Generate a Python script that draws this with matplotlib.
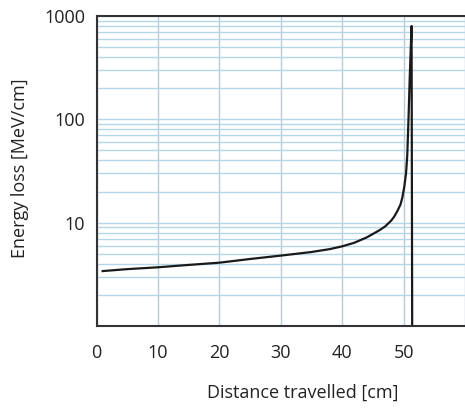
import matplotlib
matplotlib.use("Agg")
import matplotlib.pyplot as plt
from matplotlib.ticker import LogLocator, FixedLocator, NullFormatter

# Data (distance in cm, energy loss in MeV/cm)
distance = [1, 5, 10, 15, 20, 25, 30, 35, 38, 40, 42, 44, 46, 47, 48, 48.5, 49,
            49.5, 49.8, 50.1, 50.4, 50.6, 50.8, 51.0, 51.2, 51.3, 51.4]
energy_loss = [3.4, 3.55, 3.7, 3.9, 4.1, 4.45, 4.8, 5.2, 5.55, 5.9, 6.4, 7.2, 8.4,
               9.2, 10.5, 11.5, 13, 15, 17.5, 22, 30, 45, 100, 250, 550, 800, 1]
x_ticks = [0, 10, 20, 30, 40, 50]
y_ticks = [10, 100, 1000]
y_tick_labels = ["10", "100", "1000"]

plt.rcParams['font.family'] = ['Open Sans', 'DejaVu Sans']

fig = plt.figure(figsize=(4.65, 4.15), dpi=100)
ax = fig.add_axes([96.5/465, 1-326/415, 1-96.5/465, (326-16)/415])

ax.set_yscale('log')
ax.set_xlim(0, 60)
ax.set_ylim(1, 1000)

ax.yaxis.set_major_locator(FixedLocator(y_ticks))
ax.set_yticklabels(y_tick_labels)
ax.yaxis.set_minor_locator(LogLocator(base=10, subs=range(2, 10)))
ax.yaxis.set_minor_formatter(NullFormatter())
ax.xaxis.set_major_locator(FixedLocator(x_ticks + [60]))
ax.set_xticklabels([str(t) for t in x_ticks] + [""])

ax.grid(True, which='both', axis='y', color='#b3d6e8', linewidth=1.0)
ax.grid(True, which='major', axis='x', color='#bccbd4', linewidth=1.0)
ax.set_axisbelow(True)

ax.plot(distance, energy_loss, color='#1a1a1a', linewidth=1.6, solid_joinstyle='round')

for s in ['left', 'top', 'bottom']:
    ax.spines[s].set_color('#333333')
    ax.spines[s].set_linewidth(1.5)
ax.spines['right'].set_visible(False)

ax.tick_params(axis='both', which='both', length=0, labelsize=13, colors='#222222')
ax.tick_params(axis='x', pad=13)
ax.tick_params(axis='y', pad=8)

fig.text(303/465, 1-393/415, "Distance travelled [cm]", ha='center', va='center', fontsize=13, color='#222222')
fig.text(20/465, 1-168/415, "Energy loss [MeV/cm]", ha='center', va='center', rotation=90, fontsize=13, color='#222222')

fig.savefig("out.png", dpi=100)
